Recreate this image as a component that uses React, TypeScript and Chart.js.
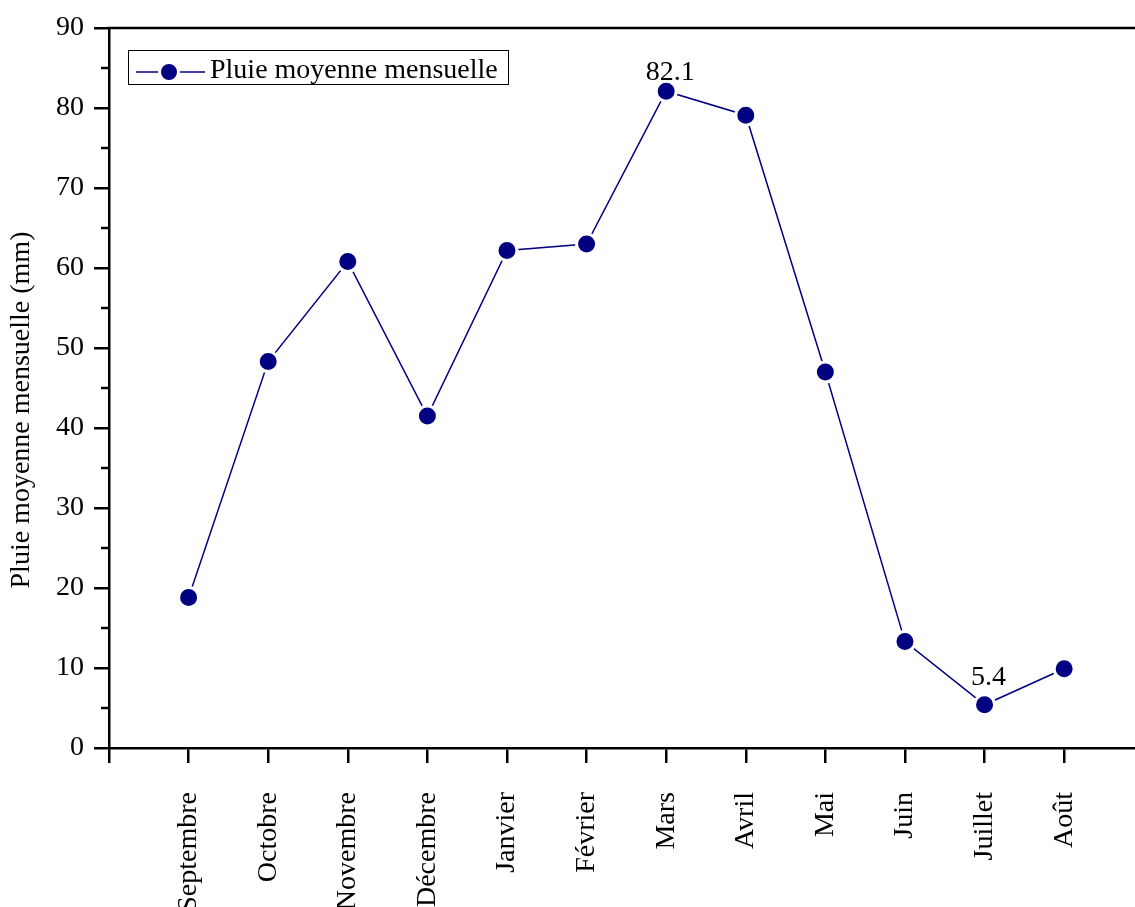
import React, { useEffect, useRef } from "react";
import { Chart, registerables } from "chart.js";

Chart.register(...registerables);

const months = [
  "Septembre", "Octobre", "Novembre", "Décembre", "Janvier", "Février",
  "Mars", "Avril", "Mai", "Juin", "Juillet", "Août",
];
const rainfall = [18.8, 48.3, 60.8, 41.5, 62.2, 63.0, 82.1, 79.1, 47.0, 13.3, 5.4, 9.9];
const labelledMonths = ["Mars", "Juillet"];
const yTicks = [0, 10, 20, 30, 40, 50, 60, 70, 80, 90];
const seriesName = "Pluie moyenne mensuelle";
const yTitle = "Pluie moyenne mensuelle (mm)";

const FONT = "'Liberation Serif', 'Times New Roman', serif";
const NAVY = "#000080";

const framePlugin = {
  id: "frame",
  afterDraw(chart: any) {
    const { ctx, chartArea } = chart;
    const y = chart.scales.y;
    ctx.save();
    // top frame line
    ctx.strokeStyle = "#000";
    ctx.lineWidth = 2.5;
    ctx.beginPath();
    ctx.moveTo(chartArea.left - 1.25, chartArea.top);
    ctx.lineTo(chart.width, chartArea.top);
    ctx.stroke();
    // minor ticks on the value axis
    for (let i = 0; i < yTicks.length - 1; i++) {
      const v = (yTicks[i] + yTicks[i + 1]) / 2;
      const py = Math.round(y.getPixelForValue(v));
      ctx.beginPath();
      ctx.moveTo(chartArea.left - 8, py);
      ctx.lineTo(chartArea.left, py);
      ctx.stroke();
    }
    // axis title
    ctx.fillStyle = "#000";
    ctx.font = `28px ${FONT}`;
    ctx.translate(22, 410);
    ctx.rotate(-Math.PI / 2);
    ctx.textAlign = "center";
    ctx.textBaseline = "middle";
    ctx.fillText(yTitle, 0, 0);
    ctx.restore();

    // value labels above the extreme months
    const meta = chart.getDatasetMeta(0);
    ctx.save();
    ctx.fillStyle = "#000";
    ctx.font = `28px ${FONT}`;
    ctx.textAlign = "center";
    ctx.textBaseline = "alphabetic";
    labelledMonths.forEach((m) => {
      const i = months.indexOf(m);
      const pt = meta.data[i];
      const gap = pt.y - chartArea.top < 80 ? 11 : 20;
      ctx.fillText(String(rainfall[i]), pt.x + 4, pt.y - gap);
    });
    ctx.restore();

    // legend
    ctx.save();
    ctx.strokeStyle = "#000";
    ctx.lineWidth = 1;
    ctx.strokeRect(128.5, 50.5, 380, 34);
    ctx.strokeStyle = NAVY;
    ctx.lineWidth = 1.5;
    ctx.beginPath();
    ctx.moveTo(136, 72);
    ctx.lineTo(205, 72);
    ctx.stroke();
    ctx.fillStyle = NAVY;
    ctx.strokeStyle = "#fff";
    ctx.lineWidth = 3;
    ctx.beginPath();
    ctx.arc(169, 72, 9.5, 0, Math.PI * 2);
    ctx.fill();
    ctx.stroke();
    ctx.fillStyle = "#000";
    ctx.font = `28px ${FONT}`;
    ctx.textAlign = "left";
    ctx.textBaseline = "alphabetic";
    ctx.fillText(seriesName, 210, 78);
    ctx.restore();
  },
};

export default function App() {
  const ref = useRef<HTMLCanvasElement>(null);
  useEffect(() => {
    if (!ref.current) return;
    const points = rainfall.map((v, i) => ({ x: i + 1, y: v }));
    const chart = new Chart(ref.current, {
      type: "line",
      data: {
        datasets: [
          {
            label: seriesName,
            data: points,
            borderColor: NAVY,
            borderWidth: 1.5,
            pointRadius: 10,
            pointHoverRadius: 10,
            pointBackgroundColor: NAVY,
            pointBorderColor: "#fff",
            pointBorderWidth: 3,
            tension: 0,
          },
        ],
      },
      options: {
        responsive: false,
        animation: false,
        layout: { autoPadding: false, padding: { top: 28, right: 0, left: 0, bottom: 0 } },
        plugins: { legend: { display: false }, tooltip: { enabled: false } },
        scales: {
          x: {
            type: "linear",
            min: 0,
            max: 12.89,
            afterFit: (s: any) => {
              s.height = 159;
              s.paddingLeft = 0;
              s.paddingRight = 0;
            },
            ticks: {
              stepSize: 1,
              autoSkip: false,
              includeBounds: false,
              maxRotation: 90,
              minRotation: 90,
              padding: 29,
              color: "#000",
              font: { family: FONT, size: 28 },
              callback: (v: any) => months[Number(v) - 1] ?? "",
            },
            grid: {
              drawOnChartArea: false,
              drawTicks: true,
              tickLength: 15,
              color: "#000",
              lineWidth: 2.5,
            },
            border: { color: "#000", width: 2.5 },
          },
          y: {
            min: 0,
            max: 90,
            afterFit: (s: any) => {
              s.width = 109;
              s.paddingTop = 0;
              s.paddingBottom = 0;
            },
            ticks: {
              stepSize: 10,
              padding: 10,
              color: "#000",
              font: { family: FONT, size: 28 },
            },
            grid: {
              drawOnChartArea: false,
              drawTicks: true,
              tickLength: 15,
              color: "#000",
              lineWidth: 2.5,
            },
            border: { color: "#000", width: 2.5 },
          },
        },
      },
      plugins: [framePlugin],
    });
    return () => chart.destroy();
  }, []);
  return (
    <div style={{ position: "fixed", left: 0, top: 0, width: 1135, height: 907, overflow: "hidden", background: "#fff" }}>
      <canvas ref={ref} width={1135} height={907} />
    </div>
  );
}
